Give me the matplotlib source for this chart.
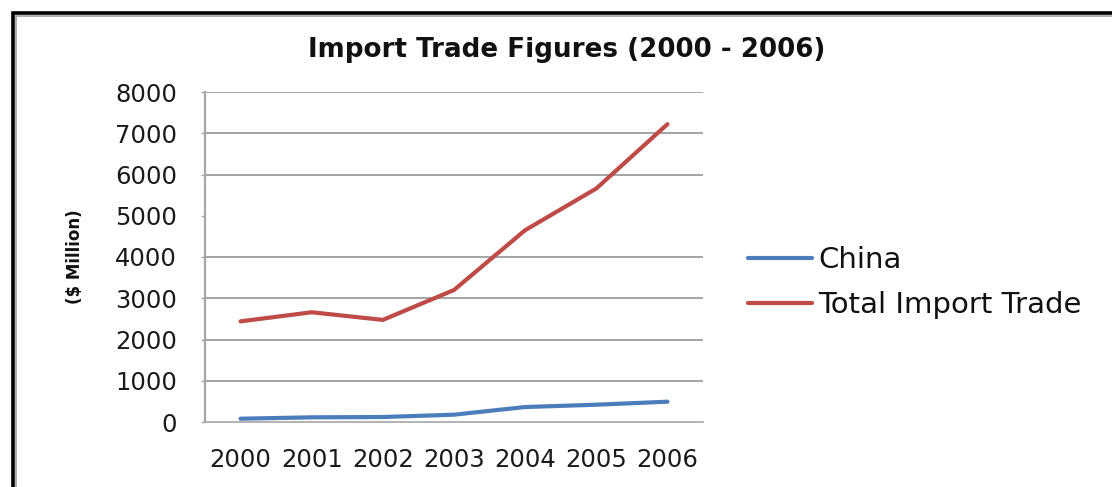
import matplotlib
matplotlib.use("Agg")
import matplotlib.pyplot as plt
from matplotlib.patches import Rectangle

years = ["2000", "2001", "2002", "2003", "2004", "2005", "2006"]
china = [80, 113, 121, 177, 363, 419, 492]
total_import = [2440, 2660, 2475, 3200, 4650, 5660, 7220]
y_ticks = [0, 1000, 2000, 3000, 4000, 5000, 6000, 7000, 8000]
grid_values = [1000, 2000, 3000, 4000, 6000, 7000, 8000]
series_names = ["China", "Total Import Trade"]

W, H = 1112, 487
DPI = 100
plt.rcParams['font.family'] = ['DejaVu Sans']

fig = plt.figure(figsize=(W / DPI, H / DPI), dpi=DPI, facecolor="white")

def fx(px):
    return px / W

def fy(py):
    return 1 - py / H

# outer frame (black + inner gray), extends beyond right/bottom edges
fig.patches.append(Rectangle((fx(12.5), fy(H + 20)), fx(W + 40), fy(12.5) - fy(H + 20),
                             transform=fig.transFigure, fill=False,
                             edgecolor="black", linewidth=2.6, zorder=0))
fig.patches.append(Rectangle((fx(15.5), fy(H + 20)), fx(W + 40), fy(15.5) - fy(H + 20),
                             transform=fig.transFigure, fill=False,
                             edgecolor="#a0a0a0", linewidth=1.2, zorder=0))

ax = fig.add_axes([fx(205), fy(422), fx(703) - fx(205), fy(92) - fy(422)])
x = list(range(len(years)))
l1, = ax.plot(x, china, color="#4a7ebb", linewidth=3.0, solid_capstyle="round",
              solid_joinstyle="round", label=series_names[0], zorder=3)
l2, = ax.plot(x, total_import, color="#be4b48", linewidth=3.0, solid_capstyle="round",
              solid_joinstyle="round", label=series_names[1], zorder=3)

ax.set_xlim(-0.5, len(years) - 0.5)
ax.set_ylim(0, 8000)
ax.set_yticks(y_ticks)
ax.set_yticklabels([str(v) for v in y_ticks])
ax.set_xticks(x)
ax.set_xticklabels(years)
ax.grid(False)

for g in grid_values:
    ax.axhline(g, color="#8c8c8c", linewidth=1.1, zorder=1)

for s in ["top", "right"]:
    ax.spines[s].set_visible(False)
ax.spines["left"].set_color("#a6a6a6")
ax.spines["left"].set_linewidth(1.6)
ax.spines["bottom"].set_color("#a6a6a6")
ax.spines["bottom"].set_linewidth(1.2)

ax.tick_params(axis="y", length=3, color="#a6a6a6", width=1.0, pad=17,
               labelsize=17.5, labelcolor="#1a1a1a")
ax.tick_params(axis="x", length=0, pad=19, labelsize=17.5, labelcolor="#1a1a1a")

fig.text(fx(567), fy(50), "Import Trade Figures (2000 - 2006)", ha="center", va="center",
         fontsize=18.8, fontweight="bold", color="#111111")

fig.text(fx(75), fy(257), "($ Million)", ha="center", va="center", rotation=90,
         fontsize=12, fontweight="bold", color="#111111")

leg = fig.legend(handles=[l1, l2], labels=series_names, loc="center left",
                 bbox_to_anchor=(fx(748), fy(282.5)), frameon=False,
                 fontsize=21, handlelength=2.2, handletextpad=0.2,
                 labelspacing=0.58, borderpad=0, borderaxespad=0)
for txt in leg.get_texts():
    txt.set_color("#111111")

fig.savefig("out.png", dpi=DPI, facecolor="white")
